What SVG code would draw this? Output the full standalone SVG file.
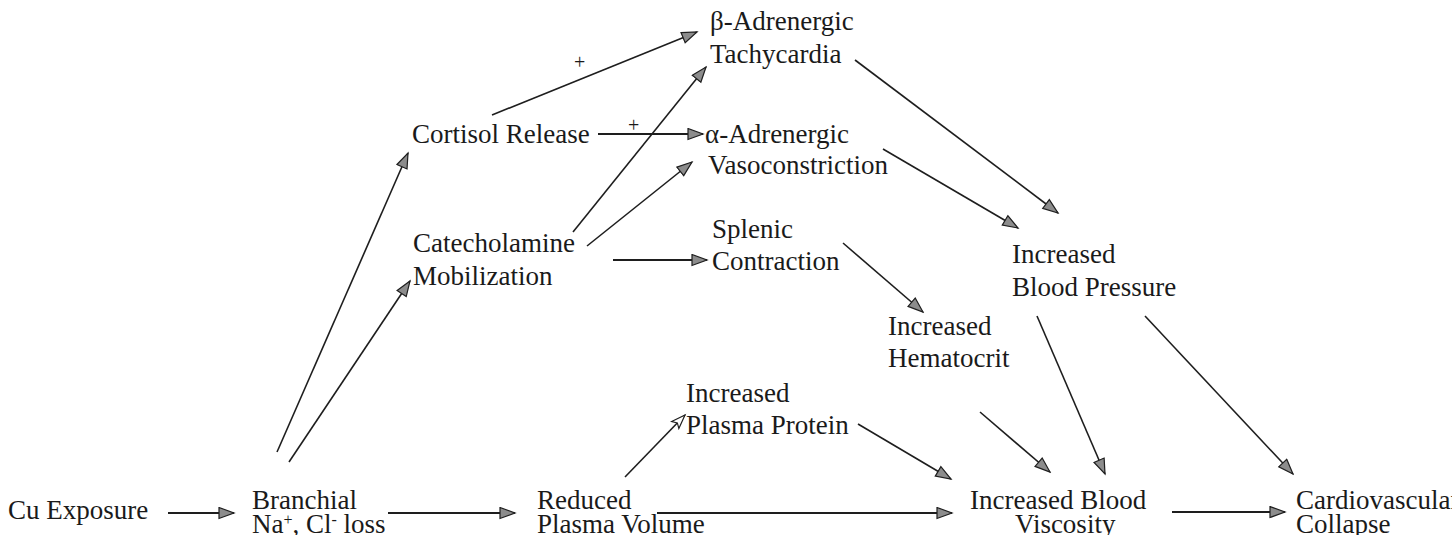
<svg xmlns="http://www.w3.org/2000/svg" width="1452" height="535" viewBox="0 0 1452 535">
<style>
text{font-family:"Liberation Serif","Times New Roman",serif;font-size:27px;fill:#1a1a1a}
.plus{font-size:20px}
.c line{stroke:#1e1e1e;stroke-width:1.6;fill:none;marker-end:url(#ah)}
.c line.h{stroke-width:2.2}
.c line.o{marker-end:url(#oh)}
</style>
<defs>
<marker id="ah" markerUnits="userSpaceOnUse" markerWidth="18" markerHeight="14" refX="16" refY="6.5" orient="auto">
<path d="M1,1 L16,6.5 L1,12 Z" fill="#8c8c8c" stroke="#1e1e1e" stroke-width="1.2"/>
</marker>
<marker id="oh" markerUnits="userSpaceOnUse" markerWidth="18" markerHeight="14" refX="15" refY="6" orient="auto">
<path d="M1,1 L15,6 L1,11 L4,6 Z" fill="#fff" stroke="#1e1e1e" stroke-width="1.2"/>
</marker>
</defs>
<rect width="1452" height="535" fill="#fff"/>
<g class="c" id="connectors">
<line class="h" x1="168" y1="513" x2="234" y2="513"/>
<line class="h" x1="388" y1="513" x2="515" y2="513"/>
<line class="h" x1="657" y1="513" x2="952" y2="513"/>
<line class="h" x1="1172" y1="512" x2="1285" y2="512"/>
<line x1="277" y1="452" x2="408" y2="153"/>
<line x1="289" y1="462" x2="410" y2="281"/>
<line x1="492" y1="115" x2="697" y2="32"/>
<line class="h" x1="598" y1="134" x2="703" y2="134"/>
<line x1="573" y1="232" x2="706" y2="67"/>
<line x1="587" y1="246" x2="692" y2="162"/>
<line class="h" x1="613" y1="260" x2="707" y2="260"/>
<line x1="855" y1="60" x2="1058" y2="213"/>
<line x1="883" y1="149" x2="1018" y2="228"/>
<line x1="843" y1="243" x2="923" y2="312"/>
<line class="o" x1="625" y1="477" x2="685" y2="415"/>
<line x1="858" y1="424" x2="951" y2="479"/>
<line x1="980" y1="412" x2="1050" y2="472"/>
<line x1="1037" y1="316" x2="1105" y2="474"/>
<line x1="1145" y1="316" x2="1293" y2="474"/>
</g>
<g id="n-cu"><text x="8" y="519">Cu Exposure</text></g>
<g id="n-branchial"><text x="252" y="509">Branchial</text><text x="252" y="533">Na<tspan font-size="16" baseline-shift="8">+</tspan>, Cl<tspan font-size="16" baseline-shift="8">-</tspan> loss</text></g>
<g id="n-reduced"><text x="537" y="509">Reduced</text><text x="537" y="533">Plasma Volume</text></g>
<g id="n-ibv"><text x="970" y="509">Increased Blood</text><text x="1015" y="533">Viscosity</text></g>
<g id="n-cardio"><text x="1296" y="509">Cardiovascular</text><text x="1296" y="533">Collapse</text></g>
<g id="n-cortisol"><text x="412" y="143">Cortisol Release</text></g>
<g id="n-catechol"><text x="413" y="252">Catecholamine</text><text x="413" y="285">Mobilization</text></g>
<g id="n-beta"><text x="710" y="30">β-Adrenergic</text><text x="710" y="63">Tachycardia</text></g>
<g id="n-alpha"><text x="705" y="143">α-Adrenergic</text><text x="708" y="174">Vasoconstriction</text></g>
<g id="n-splenic"><text x="712" y="238">Splenic</text><text x="712" y="270">Contraction</text></g>
<g id="n-ibp"><text x="1012" y="263">Increased</text><text x="1012" y="296">Blood Pressure</text></g>
<g id="n-hct"><text x="888" y="335">Increased</text><text x="888" y="367">Hematocrit</text></g>
<g id="n-ipp"><text x="686" y="402">Increased</text><text x="686" y="434">Plasma Protein</text></g>
<g id="labels"><text class="plus" x="574" y="69">+</text><text class="plus" x="628" y="132">+</text></g>
</svg>
